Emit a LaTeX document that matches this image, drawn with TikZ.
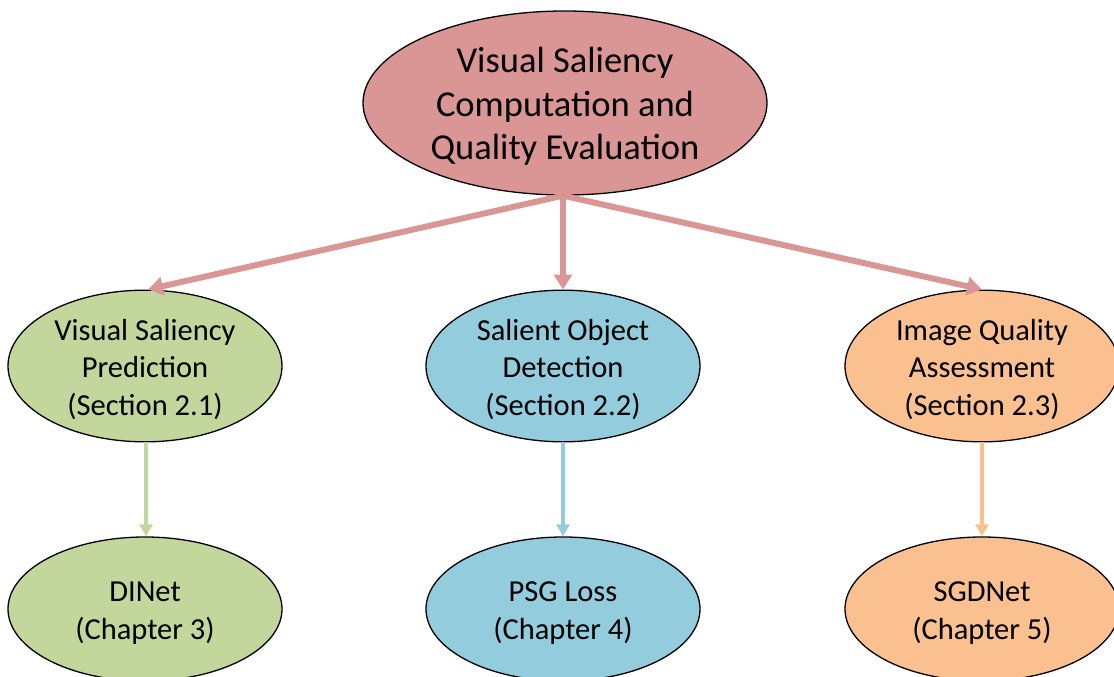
\documentclass[tikz,border=0pt]{standalone}
\usepackage{fontspec}
\setmainfont{Carlito}
\usetikzlibrary{shapes.geometric,arrows.meta}
\definecolor{rootfill}{HTML}{D99694}
\definecolor{greenfill}{HTML}{C3D69B}
\definecolor{bluefill}{HTML}{93CDDD}
\definecolor{orangefill}{HTML}{FAC090}
% tall invisible struts on the first line set the text slightly low in each oval
\newcommand{\rootstrut}{\rule{0pt}{32pt}}
\newcommand{\leafstrut}{\rule{0pt}{28pt}}
\tikzset{
  oval/.style={ellipse, draw=black, line width=1.3pt, inner sep=0pt, align=center},
  rootoval/.style={oval, fill=rootfill, minimum width=404pt, minimum height=184pt,
    font=\fontsize{36.5}{43.5}\selectfont},
  leafoval/.style={oval, minimum width=274pt, minimum height=144pt,
    font=\fontsize{30.5}{37.5}\selectfont},
  bigarrow/.style={draw=rootfill, line width=6pt, -{Triangle[length=15pt,width=18pt]}},
  smallarrow/.style={line width=3.8pt, -{Triangle[length=12pt,width=13pt]}}
}
\begin{document}
\begin{tikzpicture}[x=1pt,y=1pt]
  \useasboundingbox (0,0) rectangle (1114,-677);

  \node[rootoval] (root) at (565,-103) {\rootstrut Visual Saliency\\Computation and\\Quality Evaluation};

  \node[leafoval, fill=greenfill] (vsp) at (145,-366) {\leafstrut Visual Saliency\\Prediction\\(Section 2.1)};
  \node[leafoval, fill=bluefill] (sod) at (563,-366) {\leafstrut Salient Object\\Detection\\(Section 2.2)};
  \node[leafoval, fill=orangefill] (iqa) at (982,-366) {\leafstrut Image Quality\\Assessment\\(Section 2.3)};

  \node[leafoval, fill=greenfill] (dinet) at (145,-609) {\leafstrut DINet\\(Chapter 3)};
  \node[leafoval, fill=bluefill] (psg) at (563,-609) {\leafstrut PSG Loss\\(Chapter 4)};
  \node[leafoval, fill=orangefill] (sgd) at (982,-609) {\leafstrut SGDNet\\(Chapter 5)};

  % branches from the root topic
  \draw[bigarrow] ([xshift=-2pt]root.south) -- ([xshift=3pt]vsp.north);
  \draw[bigarrow] ([xshift=-2pt]root.south) -- (sod.north);
  \draw[bigarrow] ([xshift=-2pt]root.south) -- (iqa.north);

  % sections to chapters
  \draw[smallarrow, draw=greenfill] ([xshift=1pt]vsp.south) -- ([xshift=1pt]dinet.north);
  \draw[smallarrow, draw=bluefill] (sod.south) -- (psg.north);
  \draw[smallarrow, draw=orangefill] (iqa.south) -- (sgd.north);
\end{tikzpicture}
\end{document}
